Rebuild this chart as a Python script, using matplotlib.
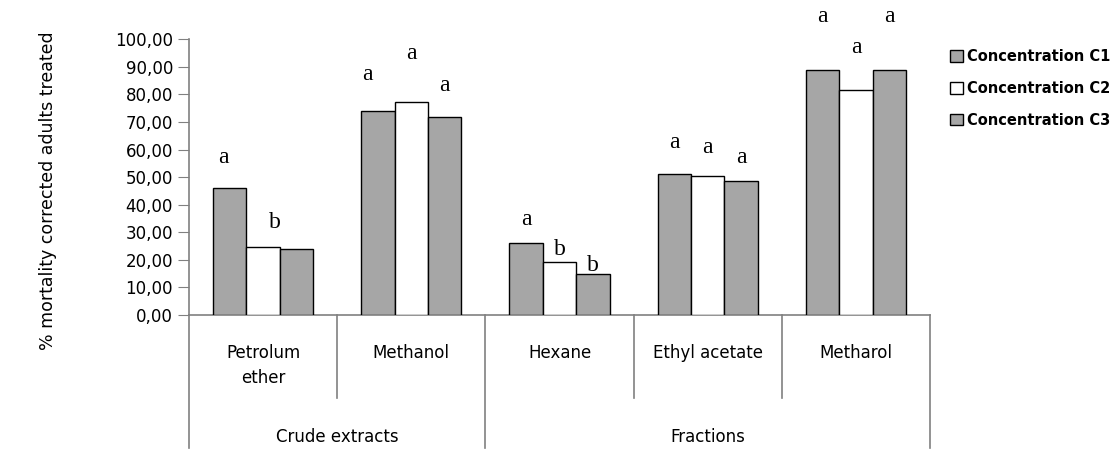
import numpy as np
import matplotlib as mpl
import matplotlib.pyplot as plt
import matplotlib.transforms as mtransforms

mpl.rcParams['font.family'] = ['DejaVu Sans']

categories = ['Petrolum\nether', 'Methanol', 'Hexane', 'Ethyl acetate', 'Metharol']
groups = ['Crude extracts', 'Fractions']
group_sizes = [2, 3]
series = ['Concentration C1', 'Concentration C2', 'Concentration C3']
c1 = [46.2, 73.9, 26.1, 51.2, 89.0]
c2 = [24.5, 77.3, 19.2, 50.4, 81.5]
c3 = [23.9, 71.9, 14.8, 48.7, 89.0]

# significance letters: (category, series, letter, height of letter)
letters = [(0, 0, 'a', 57.0), (0, 1, 'b', 33.4),
           (1, 0, 'a', 87.1), (1, 1, 'a', 95.0), (1, 2, 'a', 83.4),
           (2, 0, 'a', 34.5), (2, 1, 'b', 23.6), (2, 2, 'b', 18.1),
           (3, 0, 'a', 62.4), (3, 1, 'a', 60.9), (3, 2, 'a', 57.3),
           (4, 0, 'a', 108.1), (4, 1, 'a', 97.2), (4, 2, 'a', 108.1)]
letter_dx = {(0, 1): 0.08, (0, 0): -0.04, (1, 0): -0.07}

fig = plt.figure(figsize=(11.2, 4.5), dpi=100, facecolor='w')
ax = fig.add_axes([189/1120, 1-315/450, (930-189)/1120, (315-39.3)/450])

x = np.arange(len(categories))
w = 0.225
colors = ['#a6a6a6', 'white', '#a6a6a6']
for i, (vals, col, name) in enumerate(zip([c1, c2, c3], colors, series)):
    ax.bar(x + (i-1)*w, vals, w, color=col, edgecolor='black', linewidth=1.0, label=name, zorder=3)

for ci, si, txt, yy in letters:
    dx = letter_dx.get((ci, si), 0)
    ax.text(ci + (si-1)*w + dx, yy, txt, ha='center', va='center',
            fontsize=17, family='Liberation Serif', clip_on=False)

ax.set_xlim(-0.5, len(categories)-0.5)
ax.set_ylim(0, 100)
ax.set_yticks(np.arange(0, 101, 10))
ax.yaxis.set_major_formatter(mpl.ticker.FuncFormatter(lambda v, p: ('%.2f' % v).replace('.', ',')))
ax.tick_params(axis='y', labelsize=12, length=8, color='#808080', direction='out')
ax.set_xticks([])
for s in ['top', 'right']:
    ax.spines[s].set_visible(False)
for s in ['left', 'bottom']:
    ax.spines[s].set_color('#808080')
    ax.spines[s].set_linewidth(1.2)

# category and group labels below the axis
trans = mtransforms.blended_transform_factory(ax.transData, ax.transAxes)
for i, cat in enumerate(categories):
    ax.text(i, -0.105, cat, transform=trans, ha='center', va='top', fontsize=12, linespacing=1.5)
bounds = np.concatenate([[0], np.cumsum(group_sizes)]) - 0.5
for k in range(len(categories)+1):
    xb = k - 0.5
    y_end = -0.482 if xb in bounds else -0.301
    ax.plot([xb, xb], [0, y_end], transform=trans, color='#808080', lw=1.2, clip_on=False)
for g, name in enumerate(groups):
    ax.text((bounds[g] + bounds[g+1]) / 2, -0.443, name, transform=trans,
            ha='center', va='center', fontsize=12)

ax.set_ylabel('% mortality corrected adults treated', fontsize=12.5)
ax.yaxis.set_label_coords(-0.178, 0.45)

fig.legend(loc='upper left', bbox_to_anchor=(937/1120, 1-36/450), frameon=False,
           prop={'size': 10.5, 'weight': 'bold'}, handlelength=0.85, handleheight=0.85,
           handletextpad=0.3, labelspacing=1.15)

plt.savefig('out.png', dpi=100, facecolor='w')
